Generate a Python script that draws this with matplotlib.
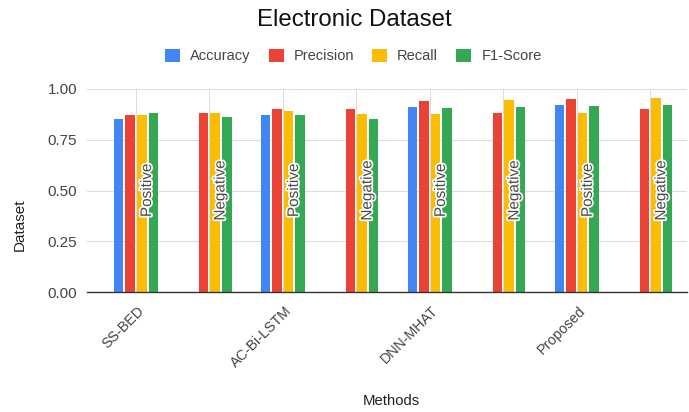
import matplotlib.pyplot as plt
import matplotlib.patheffects as pe
from matplotlib.transforms import ScaledTranslation
import numpy as np

plt.rcParams['font.family'] = ['Liberation Sans', 'DejaVu Sans']

# data
groups = ["SS-BED", "", "AC-Bi-LSTM", "", "DNN-MHAT", "", "Proposed", ""]
polarity = ["Positive", "Negative", "Positive", "Negative",
            "Positive", "Negative", "Positive", "Negative"]
accuracy = [0.85, np.nan, 0.87, np.nan, 0.91, np.nan, 0.92, np.nan]
precision = [0.87, 0.88, 0.90, 0.90, 0.94, 0.88, 0.95, 0.90]
recall = [0.87, 0.88, 0.89, 0.875, 0.875, 0.945, 0.88, 0.955]
f1_score = [0.88, 0.86, 0.87, 0.85, 0.905, 0.91, 0.915, 0.92]

series = [("Accuracy", accuracy, "#4285F4"),
          ("Precision", precision, "#EA4335"),
          ("Recall", recall, "#FBBC04"),
          ("F1-Score", f1_score, "#34A853")]

fig = plt.figure(figsize=(6.89, 4.12), dpi=100)
ax = fig.add_axes([87 / 689, 1 - 292 / 412, 600 / 689, 203 / 412])

x = np.arange(len(groups))
slot = 0.157
width = 0.13
for i, (name, vals, col) in enumerate(series):
    ax.bar(x + (i - 1.5) * slot, vals, width, color=col, label=name, zorder=3)

# Positive / Negative annotations
for xi, lab in zip(x, polarity):
    ax.text(xi + 0.15, 0.5, lab, rotation=90, ha='center', va='center',
            fontsize=11, color='#4a4a4a', zorder=5,
            path_effects=[pe.withStroke(linewidth=2.5, foreground='white')])

ax.set_xlim(-0.667, 7.5)
ax.set_ylim(0, 1.0)
ax.set_yticks([0, 0.25, 0.5, 0.75, 1.0])
ax.set_yticklabels(["0.00", "0.25", "0.50", "0.75", "1.00"])
ax.set_xticks(x)
ax.set_xticklabels(groups, rotation=45, ha='right', va='center',
                   rotation_mode='anchor')
ax.tick_params(axis='both', length=0, labelsize=11, colors='#444444')
ax.tick_params(axis='x', pad=12, labelsize=10.3)
ax.tick_params(axis='y', pad=7)
for lbl in ax.get_xticklabels():
    lbl.set_transform(lbl.get_transform() +
                      ScaledTranslation(4.5 / 72, 0, fig.dpi_scale_trans))

ax.grid(True, color='#dddddd', linewidth=0.8, zorder=0)
ax.set_axisbelow(True)
for s in ['top', 'right', 'left']:
    ax.spines[s].set_visible(False)
ax.spines['bottom'].set_color('#333333')
ax.spines['bottom'].set_linewidth(1.0)
ax.spines['bottom'].set_zorder(4)

ax.set_xlabel("Methods", fontsize=10.7, color='#222222')
ax.xaxis.set_label_coords(0.507, -0.537)
ax.xaxis.label.set_va('center')
ax.set_ylabel("Dataset", fontsize=11, color='#222222')
ax.yaxis.set_label_coords(-0.112, 0.33)
ax.yaxis.label.set_va('center')

fig.text(0.514, 0.951, "Electronic Dataset", ha='center', va='center',
         fontsize=17.3, color='#111111')
fig.legend(loc='center', bbox_to_anchor=(0.513, 0.864), ncol=4, frameon=False,
           fontsize=10.5, handlelength=1.0, handleheight=1.0, columnspacing=1.25,
           handletextpad=0.7, labelcolor='#444444')

fig.savefig("out.png", dpi=100)
